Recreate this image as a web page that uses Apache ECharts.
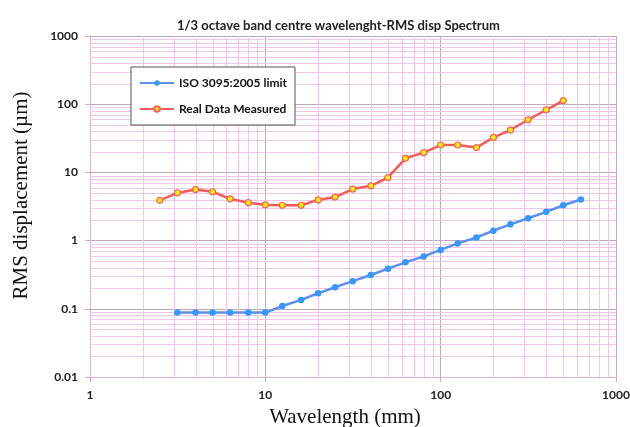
<!DOCTYPE html>
<html>
<head>
<meta charset="utf-8">
<script src="https://cdn.jsdelivr.net/npm/echarts@6/dist/echarts.min.js"></script>
<style>
html, body { margin: 0; padding: 0; background: #fff; }
#chart { width: 630px; height: 427px; }
</style>
</head>
<body>
<div id="chart"></div>
<script>
// ISO 3095:2005 limit (1/3 octave band centre wavelengths, mm -> um)
var isoWave = [3.15, 4, 5, 6.3, 8, 10, 12.5, 16, 20, 25, 31.5, 40, 50, 63, 80, 100, 125, 160, 200, 250, 315, 400, 500, 630];
var isoLimit = [0.088, 0.088, 0.088, 0.088, 0.088, 0.088, 0.11, 0.135, 0.169, 0.207, 0.254, 0.313, 0.388, 0.48, 0.587, 0.73, 0.91, 1.11, 1.4, 1.73, 2.13, 2.64, 3.3, 4.0];

// measured spectrum
var realWave = [2.5, 3.15, 4, 5, 6.3, 8, 10, 12.5, 16, 20, 25, 31.5, 40, 50, 63, 80, 100, 125, 160, 200, 250, 315, 400, 500];
var realDisp = [3.9, 5.0, 5.6, 5.2, 4.1, 3.6, 3.35, 3.3, 3.3, 3.95, 4.35, 5.7, 6.35, 8.4, 16.1, 19.5, 25.2, 25.2, 23.1, 32.6, 41.8, 59.1, 82.8, 113];

// axis ranges and minor grid positions (log decades, 2..9 inside each)
var xRange = [1, 1000];
var yRange = [0.01, 1000];
var minorSteps = [2, 3, 4, 5, 6, 7, 8, 9];
var xDecades = [1, 10, 100];
var yDecades = [0.01, 0.1, 1, 10, 100];

var xMinor = [];
xDecades.forEach(function (d) { minorSteps.forEach(function (s) { xMinor.push(+(d * s).toPrecision(3)); }); });
var yMinor = [];
yDecades.forEach(function (d) { minorSteps.forEach(function (s) { yMinor.push(+(d * s).toPrecision(3)); }); });

var labelFont = 'Lato, "Open Sans", sans-serif';
var minorColor = '#f0c6eb';
var majorColor = '#bda9bc';

function fmt(v) { return String(+(+v).toPrecision(3)); }

function minorLine(vertical) {
    return function (params, api) {
        var a, b;
        if (vertical) {
            var x = api.value(0);
            a = api.coord([x, yRange[0]]);
            b = api.coord([x, yRange[1]]);
            a[0] = b[0] = Math.round(a[0]) + 0.5;
        } else {
            var y = api.value(1);
            a = api.coord([xRange[0], y]);
            b = api.coord([xRange[1], y]);
            a[1] = b[1] = Math.round(a[1]) + 0.5;
        }
        return {
            type: 'line',
            shape: { x1: a[0], y1: a[1], x2: b[0], y2: b[1] },
            style: { stroke: minorColor, lineWidth: 1 }
        };
    };
}

var myChart = echarts.init(document.getElementById('chart'));
var option = {
    animation: false,
    backgroundColor: '#fff',
    title: {
        text: '1/3 octave band centre wavelenght-RMS disp Spectrum',
        left: 172,
        top: 14,
        textStyle: { fontFamily: labelFont, fontSize: 13, fontWeight: 'bold', color: '#222' }
    },
    legend: {
        data: ['ISO 3095:2005 limit', 'Real Data Measured'],
        orient: 'vertical',
        left: 131,
        top: 67,
        padding: [10, 8, 10, 8],
        itemGap: 14,
        itemWidth: 34,
        itemHeight: 7,
        backgroundColor: '#fff',
        borderColor: '#555',
        borderWidth: 1,
        borderRadius: 0,
        textStyle: { fontFamily: labelFont, fontSize: 12, fontWeight: 'bold', color: '#111' }
    },
    grid: { left: 90, right: 14, top: 36, bottom: 50, outerBoundsMode: 'none' },
    xAxis: {
        type: 'log',
        logBase: 10,
        min: xRange[0],
        max: xRange[1],
        name: 'Wavelength (mm)',
        nameLocation: 'middle',
        nameGap: 30,
        nameTextStyle: { fontFamily: '"Liberation Serif", serif', fontSize: 21, color: '#111', padding: [0, 16, 0, 0] },
        axisLine: { show: true, onZero: false, lineStyle: { color: '#d9b3d2', width: 1 } },
        axisTick: { show: true, length: 5, lineStyle: { color: '#d0a9c8' } },
        axisLabel: { margin: 12, fontFamily: labelFont, fontSize: 12, fontWeight: 'bold', color: '#222', formatter: fmt },
        splitLine: { show: true, lineStyle: { color: majorColor, width: 1 } }
    },
    yAxis: {
        type: 'log',
        logBase: 10,
        min: yRange[0],
        max: yRange[1],
        name: 'RMS displacement (\u00b5m)',
        nameLocation: 'middle',
        nameGap: 58,
        nameRotate: 90,
        nameTextStyle: { fontFamily: '"Liberation Serif", serif', fontSize: 21, color: '#111', padding: [0, 0, 0, 22] },
        axisLine: { show: true, onZero: false, lineStyle: { color: '#d9b3d2', width: 1 } },
        axisTick: { show: true, length: 5, lineStyle: { color: '#d0a9c8' } },
        axisLabel: { margin: 12, fontFamily: labelFont, fontSize: 12, fontWeight: 'bold', color: '#222', formatter: fmt },
        splitLine: { show: true, lineStyle: { color: majorColor, width: 1 } }
    },
    series: [
        {
            name: 'xMinor',
            type: 'custom',
            silent: true,
            z: 1,
            renderItem: minorLine(true),
            data: xMinor.map(function (v) { return [v, 1]; })
        },
        {
            name: 'yMinor',
            type: 'custom',
            silent: true,
            z: 1,
            renderItem: minorLine(false),
            data: yMinor.map(function (v) { return [10, v]; })
        },
        {
            name: 'ISO 3095:2005 limit',
            type: 'line',
            z: 3,
            symbol: 'circle',
            symbolSize: 6.5,
            showAllSymbol: true,
            lineStyle: { color: '#5c8ef0', width: 2.5 },
            itemStyle: { color: '#3399ff' },
            data: isoWave.map(function (w, i) { return [w, isoLimit[i]]; })
        },
        {
            name: 'Real Data Measured',
            type: 'line',
            z: 3,
            symbol: 'circle',
            symbolSize: 6,
            showAllSymbol: true,
            lineStyle: { color: '#f55b5b', width: 2.5 },
            itemStyle: { color: '#ffee00', borderColor: '#f36464', borderWidth: 1.2 },
            data: realWave.map(function (w, i) { return [w, realDisp[i]]; })
        }
    ]
};
myChart.setOption(option);
</script>
</body>
</html>
